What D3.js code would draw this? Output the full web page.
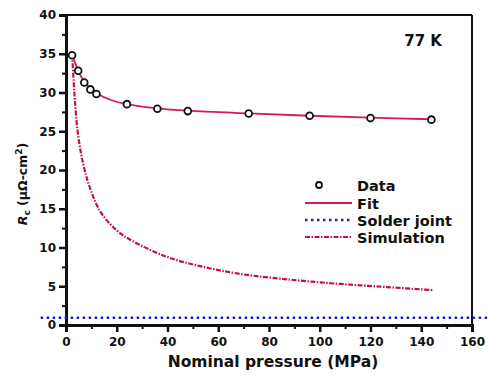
<!DOCTYPE html>
<html><head><meta charset="utf-8">
<script src="https://cdn.jsdelivr.net/npm/d3@7"></script>
<style>
body{margin:0;background:#fff;}
text{font-family:"DejaVu Sans","Liberation Sans",Arial,sans-serif;font-weight:bold;fill:#111;}
</style></head>
<body><svg id="c" width="488" height="376"></svg>
<script>
// Data
const dataX = [2.4, 4.8, 7.2, 9.6, 12, 24, 36, 48, 72, 96, 120, 144];
const dataY = [34.8, 32.8, 31.3, 30.4, 29.8, 28.5, 27.9, 27.6, 27.3, 27.0, 26.7, 26.5];
const fitX = [2.4, 3.5, 4.8, 7.2, 9.6, 12, 18, 24, 36, 48, 72, 96, 120, 144];
const fitY = [35.0, 33.9, 32.8, 31.4, 30.5, 29.9, 29.0, 28.5, 27.95, 27.65, 27.3, 27.0, 26.75, 26.55];
const simX = [2.4, 3.0, 3.5, 4.5, 6, 7.9, 9.1, 13.4, 20, 26.4, 39.7, 52.8, 68.5, 90, 108, 126, 144.5];
const simY = [35.0, 31.5, 29.0, 25.2, 22.0, 19.3, 18.0, 14.7, 12.2, 10.8, 8.8, 7.6, 6.6, 5.8, 5.3, 4.9, 4.5];
const solderX = [-10, 170];
const solderY = [0.95, 0.95];
const xTicks = [0, 20, 40, 60, 80, 100, 120, 140, 160];
const yTicks = [0, 5, 10, 15, 20, 25, 30, 35, 40];
const legendLabels = ["Data", "Fit", "Solder joint", "Simulation"];

const svg = d3.select("#c");
const x = d3.scaleLinear().domain([0, 160]).range([66, 472]);
const y = d3.scaleLinear().domain([0, 40]).range([325, 15]);

const fitColor = "#d81b50", simColor = "#c0143c", solderColor = "#1c1cc8";

// frame top/right
svg.append("line").attr("x1", x(0)).attr("x2", x(160)).attr("y1", y(40)).attr("y2", y(40)).attr("stroke", "#111").attr("stroke-width", 2);
svg.append("line").attr("x1", x(160)).attr("x2", x(160)).attr("y1", y(40)).attr("y2", y(0)).attr("stroke", "#111").attr("stroke-width", 2);

// axes
const xAxis = d3.axisBottom(x).tickValues(xTicks).tickSize(7).tickPadding(5).tickFormat(d3.format("d"));
const gx = svg.append("g").attr("transform", `translate(0,${y(0)})`).call(xAxis);
const yAxis = d3.axisLeft(y).tickValues(yTicks).tickSize(7).tickPadding(3).tickFormat(d3.format("d"));
const gy = svg.append("g").attr("transform", `translate(${x(0)},0)`).call(yAxis);
[gx, gy].forEach(g => {
  g.select(".domain").attr("stroke", "#111").attr("stroke-width", 3);
  g.selectAll(".tick line").attr("stroke", "#111").attr("stroke-width", 2.5);
  g.selectAll(".tick text").style("font-size", "12px").style("font-weight", "bold").attr("fill", "#111");
});
// minor ticks
const gxm = svg.append("g").attr("transform", `translate(0,${y(0)})`)
  .call(d3.axisBottom(x).tickValues(d3.range(10, 160, 20)).tickSize(4).tickFormat(""));
const gym = svg.append("g").attr("transform", `translate(${x(0)},0)`)
  .call(d3.axisLeft(y).tickValues(d3.range(2.5, 40, 5)).tickSize(4).tickFormat(""));
[gxm, gym].forEach(g => {
  g.select(".domain").remove();
  g.selectAll(".tick line").attr("stroke", "#111").attr("stroke-width", 2);
});

// solder joint
const line = d3.line().x(d => x(d[0])).y(d => y(d[1]));
svg.append("path").datum(d3.zip(solderX, solderY)).attr("d", line)
  .attr("fill", "none").attr("stroke", solderColor).attr("stroke-width", 2.5).attr("stroke-dasharray", "2.5,3.5");

// simulation
const smooth = d3.line().x(d => x(d[0])).y(d => y(d[1])).curve(d3.curveCatmullRom.alpha(0.5));
svg.append("path").datum(d3.zip(simX, simY)).attr("d", smooth)
  .attr("fill", "none").attr("stroke", simColor).attr("stroke-width", 2.2).attr("stroke-dasharray", "5,1.5,1.5,1.5");

// fit
svg.append("path").datum(d3.zip(fitX, fitY)).attr("d", smooth)
  .attr("fill", "none").attr("stroke", fitColor).attr("stroke-width", 1.8);

// data points
svg.append("g").selectAll("circle").data(d3.zip(dataX, dataY)).join("circle")
  .attr("cx", d => x(d[0])).attr("cy", d => y(d[1])).attr("r", 3.4)
  .attr("fill", "#fff").attr("stroke", "#111").attr("stroke-width", 1.8);

// labels
svg.append("text").attr("x", 273).attr("y", 367).attr("text-anchor", "middle").style("font-size", "15.5px").text("Nominal pressure (MPa)");
const yl = svg.append("text").attr("transform", "translate(27,184) rotate(-90)").attr("text-anchor", "middle").style("font-size", "12.5px");
yl.append("tspan").style("font-style", "italic").text("R");
yl.append("tspan").attr("dy", 3).style("font-size", "9px").text("c");
yl.append("tspan").attr("dy", -3).text(" (μΩ-cm");
yl.append("tspan").attr("dy", -5).style("font-size", "9px").text("2");
yl.append("tspan").attr("dy", 5).text(")");
svg.append("text").attr("x", 442).attr("y", 46).attr("text-anchor", "end").style("font-size", "15px").text("77 K");

// legend
const lg = svg.append("g");
const ly = [185, 203, 220, 237];
lg.append("circle").attr("cx", 319).attr("cy", ly[0]).attr("r", 3.0).attr("fill", "#fff").attr("stroke", "#111").attr("stroke-width", 1.8);
lg.append("line").attr("x1", 305).attr("x2", 352).attr("y1", ly[1]).attr("y2", ly[1]).attr("stroke", fitColor).attr("stroke-width", 1.8);
lg.append("line").attr("x1", 305).attr("x2", 352).attr("y1", ly[2]).attr("y2", ly[2]).attr("stroke", solderColor).attr("stroke-width", 2.5).attr("stroke-dasharray", "2.5,3.5");
lg.append("line").attr("x1", 305).attr("x2", 352).attr("y1", ly[3]).attr("y2", ly[3]).attr("stroke", simColor).attr("stroke-width", 2.2).attr("stroke-dasharray", "5,1.5,1.5,1.5");
lg.selectAll("text").data(legendLabels).join("text")
  .attr("x", 357).attr("y", (d, i) => ly[i] + 6).style("font-size", "14.5px").text(d => d);
</script></body></html>
